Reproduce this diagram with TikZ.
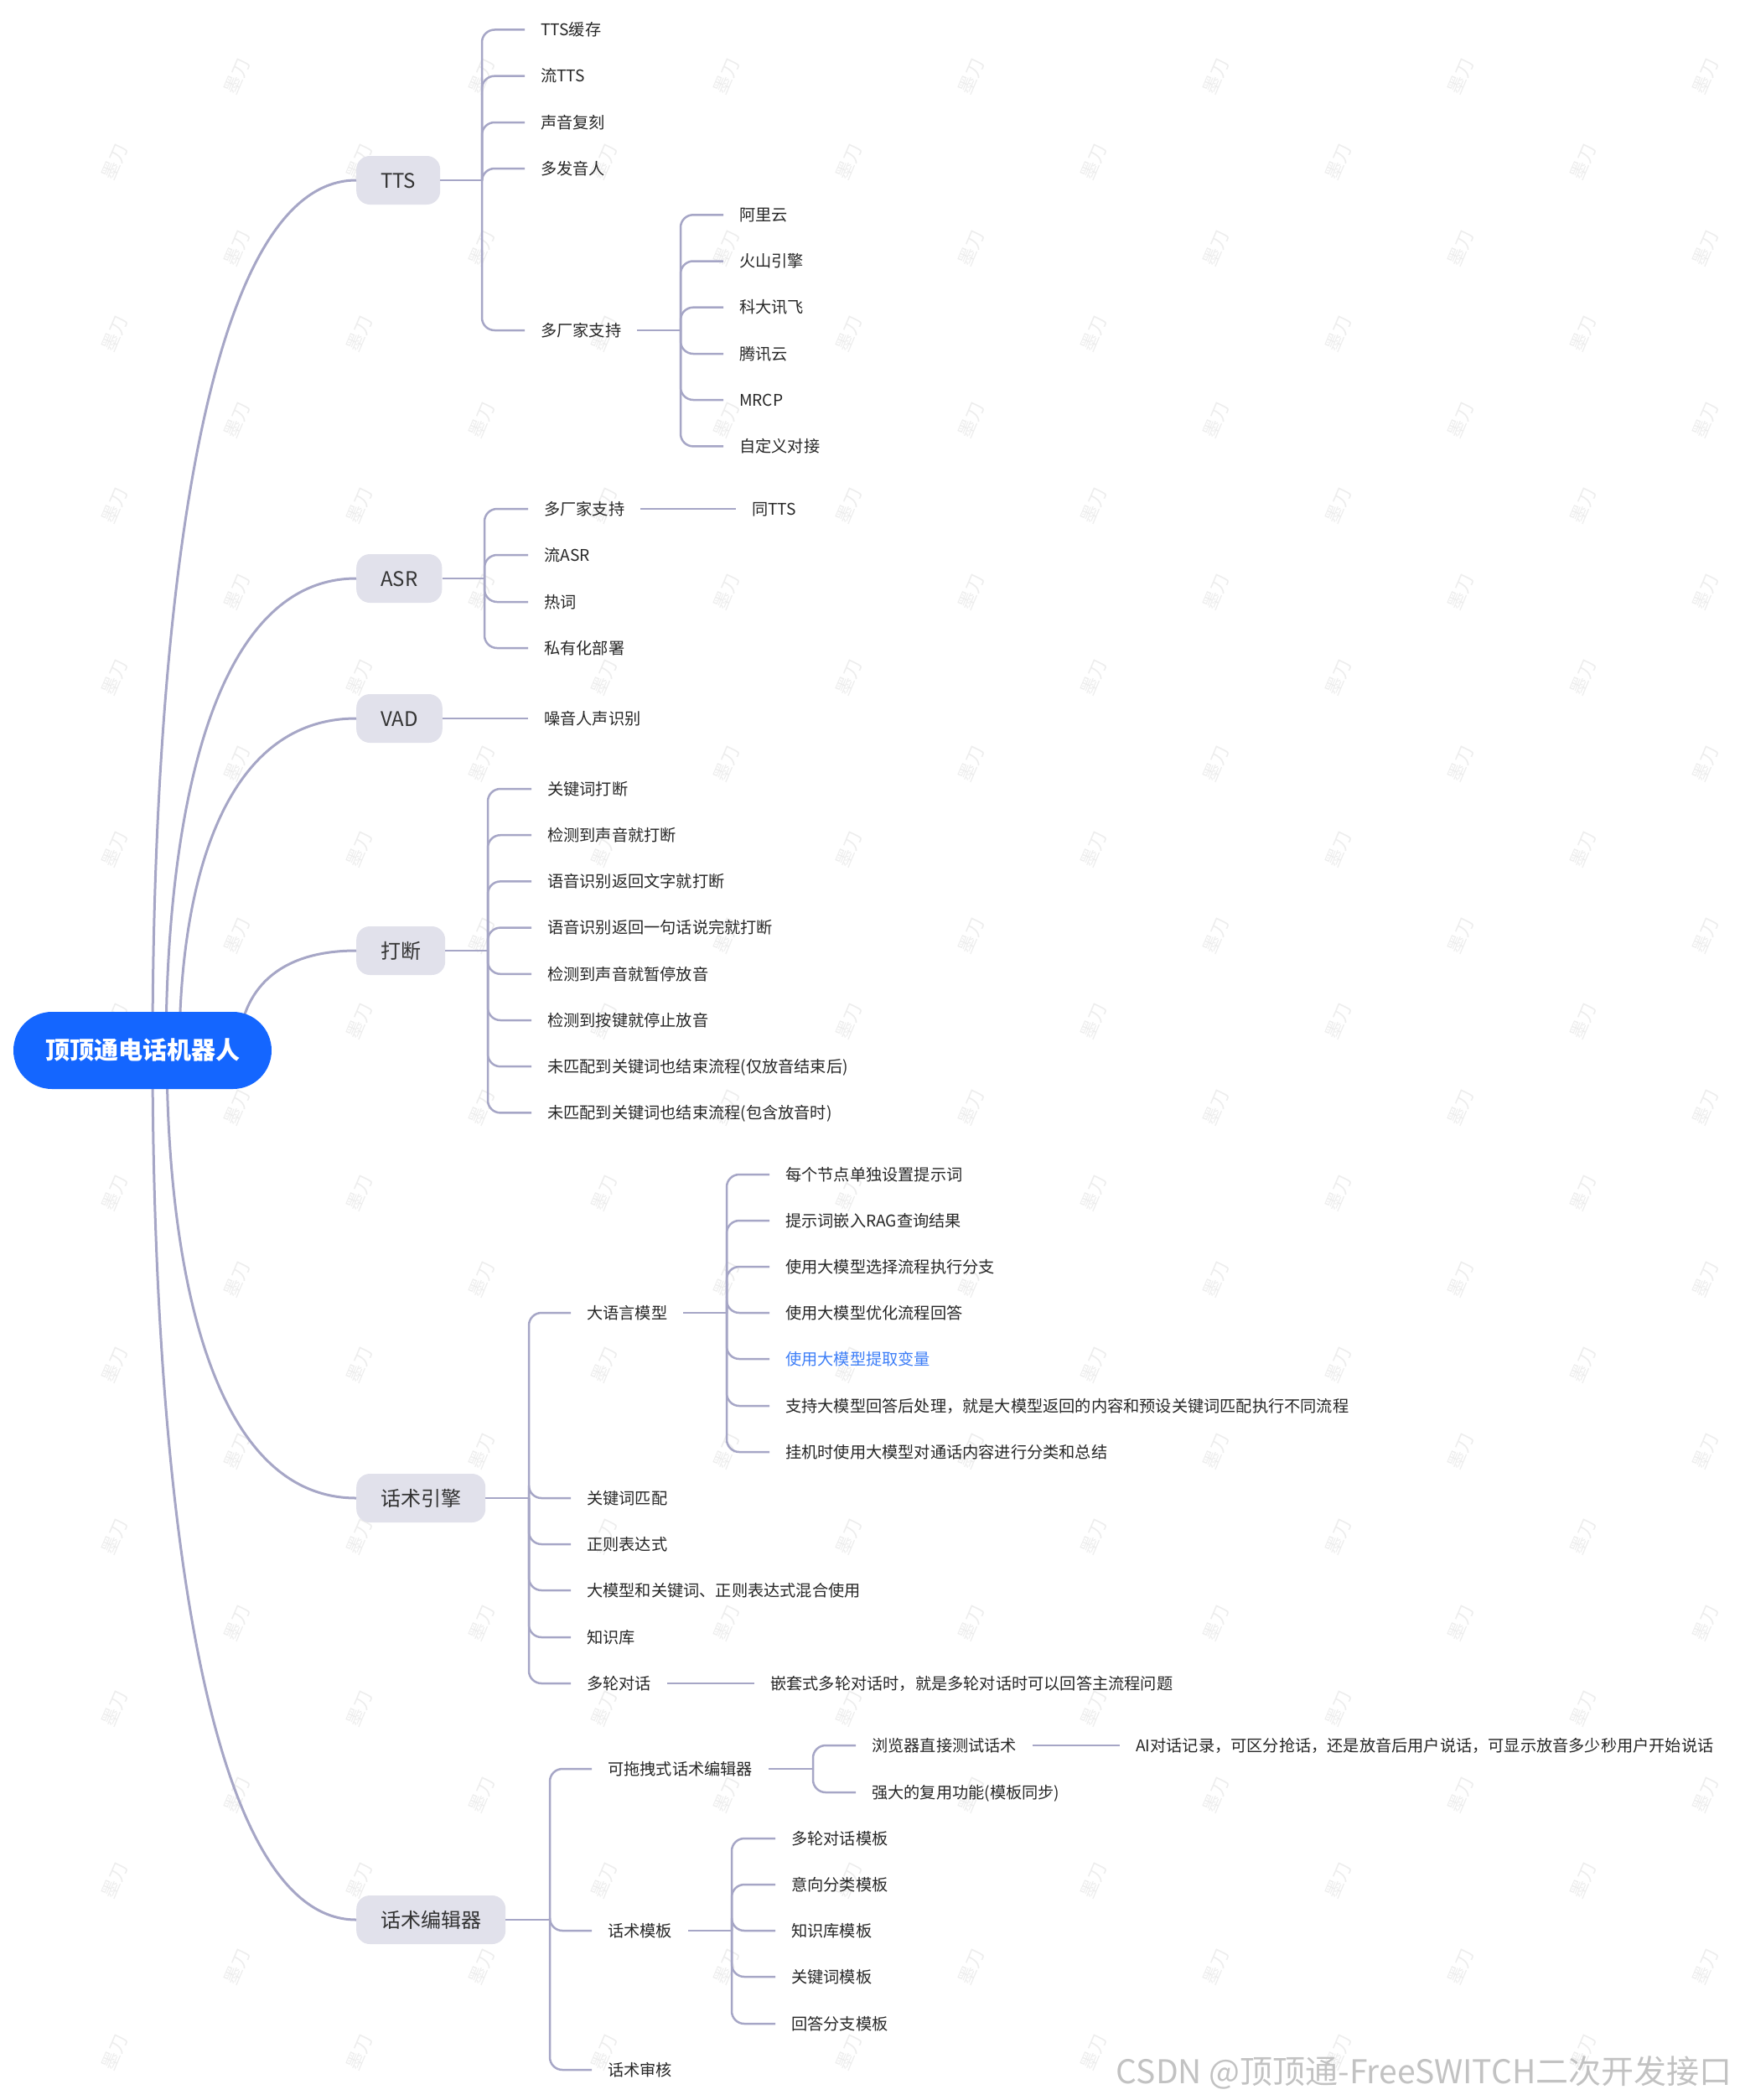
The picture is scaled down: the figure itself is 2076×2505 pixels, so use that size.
\documentclass[tikz,border=0pt]{standalone}
\usepackage{fontspec}
\setmainfont{Noto Sans CJK SC}
\usepackage{tikz}
\usetikzlibrary{positioning}

\begin{document}
\begin{tikzpicture}[x=1pt, y=-1pt,
  ramo/.style={draw=colLinea, line width=2.5pt, rounded corners=15pt},
  curva/.style={draw=colLinea, line width=3pt},
  radice/.style={fill=colRadice, text=white, minimum width=308pt, minimum height=92pt,
    rounded corners=46pt, font=\fontsize{29}{29}\selectfont\bfseries},
  tema/.style={anchor=west, fill=colNodo, text=colTema, minimum height=58pt, inner xsep=29pt,
    inner ysep=0pt, rounded corners=16pt, text height=21pt, text depth=3pt,
    font=\fontsize{24}{24}\selectfont},
  foglia/.style={anchor=west, inner xsep=19pt, inner ysep=0pt, text height=17pt,
    text depth=2.5pt, text=colTesto, font=\fontsize{19.2}{23}\selectfont},
  filigrana/.style={rotate=67, text=colFiligrana, font=\fontsize{22}{22}\selectfont}]

% Colori
\definecolor{colRadice}{HTML}{1466FF}
\definecolor{colNodo}{HTML}{E1E1EB}
\definecolor{colLinea}{HTML}{A6A6C6}
\definecolor{colTesto}{HTML}{262626}
\definecolor{colTema}{HTML}{333333}
\definecolor{colEvid}{HTML}{3D7EF7}
\definecolor{colFiligrana}{HTML}{EDEDED}
\definecolor{colCsdn}{HTML}{C2C2C2}

\useasboundingbox (0,0) rectangle (2076,2505);

% Filigrana
\foreach \j in {0,...,25}{
  \foreach \i in {-1,...,7}{
    \pgfmathsetmacro\wx{137+146*mod(\j,2)+292*\i}
    \pgfmathsetmacro\wy{-11.5+102.5*\j}
    \pgfmathtruncatemacro\ok{(\wx>15)&&(\wx<2060)&&(\wy>25)&&(\wy<2480)}
    \ifnum\ok=1
      \node[filigrana] (wm-\i-\j) at (\wx,\wy) {墨刀};
    \fi
  }
}
\node[anchor=east, text=colCsdn, font=\fontsize{39}{39}\selectfont] (csdn) at (2070,2472)
  {CSDN @顶顶通-FreeSWITCH二次开发接口};

% Temi principali
\node[tema] (tts) at (425,215) {TTS};
\node[tema] (asr) at (425,690) {ASR};
\node[tema] (vad) at (425,857) {VAD};
\node[tema] (interr) at (425,1134) {打断};
\node[tema] (motore) at (425,1787) {话术引擎};
\node[tema] (editor) at (425,2290) {话术编辑器};

% Curve dal centro
\draw[curva] (182,1253) .. controls (182,796) and (231,215) .. (tts.west);
\draw[curva] (198,1253) .. controls (198,1005) and (243,690) .. (asr.west);
\draw[curva] (214,1253) .. controls (214,1079) and (256,857) .. (vad.west);
\draw[curva] (285,1253) .. controls (285,1201) and (313,1134) .. (interr.west);
\draw[curva] (199,1253) .. controls (199,1488) and (244,1787) .. (motore.west);
\draw[curva] (182,1253) .. controls (182,1709) and (231,2290) .. (editor.west);

% Nodo centrale
\node[radice] (root) at (170,1253) {顶顶通电话机器人};

% TTS
\node[foglia] (tts1) at (626,35.5) {TTS缓存};
\node[foglia] (tts2) at (626,90.7) {流TTS};
\node[foglia] (tts3) at (626,146) {声音复刻};
\node[foglia] (tts4) at (626,201) {多发音人};
\node[foglia] (tts5) at (626,394) {多厂家支持};
\coordinate (ttsB) at (575,215);
\draw[ramo] (tts.east) -- (ttsB);
\draw[ramo] (ttsB) |- (tts1.west);
\draw[ramo] (ttsB) |- (tts2.west);
\draw[ramo] (ttsB) |- (tts3.west);
\draw[ramo] (ttsB) |- (tts4.west);
\draw[ramo] (ttsB) |- (tts5.west);

\node[foglia] (ttsv1) at (863,256.3) {阿里云};
\node[foglia] (ttsv2) at (863,311.5) {火山引擎};
\node[foglia] (ttsv3) at (863,366.7) {科大讯飞};
\node[foglia] (ttsv4) at (863,422) {腾讯云};
\node[foglia] (ttsv5) at (863,477) {MRCP};
\node[foglia] (ttsv6) at (863,532.4) {自定义对接};
\coordinate (ttsvB) at (812,394);
\draw[ramo] (tts5.east) -- (ttsvB);
\draw[ramo] (ttsvB) |- (ttsv1.west);
\draw[ramo] (ttsvB) |- (ttsv2.west);
\draw[ramo] (ttsvB) |- (ttsv3.west);
\draw[ramo] (ttsvB) |- (ttsv4.west);
\draw[ramo] (ttsvB) |- (ttsv5.west);
\draw[ramo] (ttsvB) |- (ttsv6.west);

% ASR
\node[foglia] (asr1) at (630,607) {多厂家支持};
\node[foglia] (asr2) at (630,662) {流ASR};
\node[foglia] (asr3) at (630,718) {热词};
\node[foglia] (asr4) at (630,773) {私有化部署};
\node[foglia] (asrT) at (878,607) {同TTS};
\coordinate (asrB) at (578,690);
\draw[ramo] (asr.east) -- (asrB);
\draw[ramo] (asrB) |- (asr1.west);
\draw[ramo] (asrB) |- (asr2.west);
\draw[ramo] (asrB) |- (asr3.west);
\draw[ramo] (asrB) |- (asr4.west);
\draw[ramo] (asr1.east) -- (asrT.west);

% VAD
\node[foglia] (vad1) at (630,857) {噪音人声识别};
\draw[ramo] (vad.east) -- (vad1.west);

% Interruzione
\node[foglia] (int1) at (634,941) {关键词打断};
\node[foglia] (int2) at (634,996.2) {检测到声音就打断};
\node[foglia] (int3) at (634,1051.4) {语音识别返回文字就打断};
\node[foglia] (int4) at (634,1106.6) {语音识别返回一句话说完就打断};
\node[foglia] (int5) at (634,1161.8) {检测到声音就暂停放音};
\node[foglia] (int6) at (634,1217) {检测到按键就停止放音};
\node[foglia] (int7) at (634,1272.2) {未匹配到关键词也结束流程(仅放音结束后)};
\node[foglia] (int8) at (634,1327.4) {未匹配到关键词也结束流程(包含放音时)};
\coordinate (intB) at (582,1134);
\draw[ramo] (interr.east) -- (intB);
\draw[ramo] (intB) |- (int1.west);
\draw[ramo] (intB) |- (int2.west);
\draw[ramo] (intB) |- (int3.west);
\draw[ramo] (intB) |- (int4.west);
\draw[ramo] (intB) |- (int5.west);
\draw[ramo] (intB) |- (int6.west);
\draw[ramo] (intB) |- (int7.west);
\draw[ramo] (intB) |- (int8.west);

% Motore
\node[foglia] (mot1) at (681,1566) {大语言模型};
\node[foglia] (mot2) at (681,1787) {关键词匹配};
\node[foglia] (mot3) at (681,1842) {正则表达式};
\node[foglia] (mot4) at (681,1897) {大模型和关键词、正则表达式混合使用};
\node[foglia] (mot5) at (681,1953) {知识库};
\node[foglia] (mot6) at (681,2008) {多轮对话};
\coordinate (motB) at (631,1787);
\draw[ramo] (motore.east) -- (motB);
\draw[ramo] (motB) |- (mot1.west);
\draw[ramo] (motB) |- (mot2.west);
\draw[ramo] (motB) |- (mot3.west);
\draw[ramo] (motB) |- (mot4.west);
\draw[ramo] (motB) |- (mot5.west);
\draw[ramo] (motB) |- (mot6.west);

\node[foglia] (llm1) at (918,1401) {每个节点单独设置提示词};
\node[foglia] (llm2) at (918,1456) {提示词嵌入RAG查询结果};
\node[foglia] (llm3) at (918,1511) {使用大模型选择流程执行分支};
\node[foglia] (llm4) at (918,1566) {使用大模型优化流程回答};
\node[foglia, text=colEvid] (llm5) at (918,1621) {使用大模型提取变量};
\node[foglia] (llm6) at (918,1677) {支持大模型回答后处理，就是大模型返回的内容和预设关键词匹配执行不同流程};
\node[foglia] (llm7) at (918,1732) {挂机时使用大模型对通话内容进行分类和总结};
\coordinate (llmB) at (867,1566);
\draw[ramo] (mot1.east) -- (llmB);
\draw[ramo] (llmB) |- (llm1.west);
\draw[ramo] (llmB) |- (llm2.west);
\draw[ramo] (llmB) |- (llm3.west);
\draw[ramo] (llmB) |- (llm4.west);
\draw[ramo] (llmB) |- (llm5.west);
\draw[ramo] (llmB) |- (llm6.west);
\draw[ramo] (llmB) |- (llm7.west);

\node[foglia] (motM) at (900,2008) {嵌套式多轮对话时，就是多轮对话时可以回答主流程问题};
\draw[ramo] (mot6.east) -- (motM.west);

% Editor
\node[foglia] (ed1) at (706,2110) {可拖拽式话术编辑器};
\node[foglia] (ed2) at (706,2303) {话术模板};
\node[foglia] (ed3) at (706,2469) {话术审核};
\coordinate (edB) at (656,2290);
\draw[ramo] (editor.east) -- (edB);
\draw[ramo] (edB) |- (ed1.west);
\draw[ramo] (edB) |- (ed2.west);
\draw[ramo] (edB) |- (ed3.west);

\node[foglia] (drag1) at (1021,2082) {浏览器直接测试话术};
\node[foglia] (drag2) at (1021,2138) {强大的复用功能(模板同步)};
\coordinate (dragB) at (970,2110);
\draw[ramo] (ed1.east) -- (dragB);
\draw[ramo] (dragB) |- (drag1.west);
\draw[ramo] (dragB) |- (drag2.west);

\node[foglia] (dragR) at (1336,2082) {AI对话记录，可区分抢话，还是放音后用户说话，可显示放音多少秒用户开始说话};
\draw[ramo] (drag1.east) -- (dragR.west);

\node[foglia] (tpl1) at (925,2193) {多轮对话模板};
\node[foglia] (tpl2) at (925,2248) {意向分类模板};
\node[foglia] (tpl3) at (925,2303) {知识库模板};
\node[foglia] (tpl4) at (925,2358) {关键词模板};
\node[foglia] (tpl5) at (925,2414) {回答分支模板};
\coordinate (tplB) at (873,2303);
\draw[ramo] (ed2.east) -- (tplB);
\draw[ramo] (tplB) |- (tpl1.west);
\draw[ramo] (tplB) |- (tpl2.west);
\draw[ramo] (tplB) |- (tpl3.west);
\draw[ramo] (tplB) |- (tpl4.west);
\draw[ramo] (tplB) |- (tpl5.west);
\end{tikzpicture}
\end{document}
